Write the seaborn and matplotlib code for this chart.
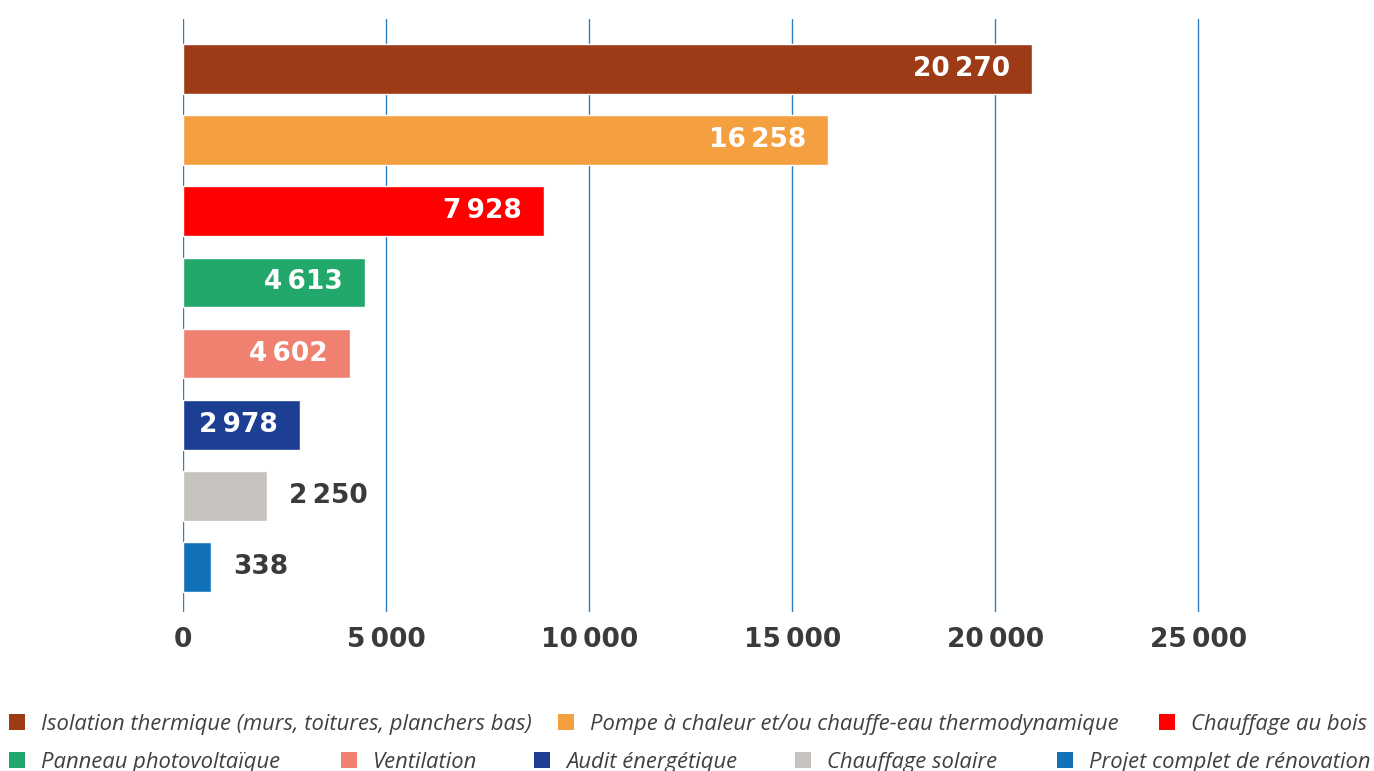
import matplotlib
matplotlib.use("Agg")
import matplotlib.pyplot as plt
from matplotlib.patches import Rectangle
import seaborn as sns
import pandas as pd

categories = [
    "Isolation thermique (murs, toitures, planchers bas)",
    "Pompe à chaleur et/ou chauffe-eau thermodynamique",
    "Chauffage au bois",
    "Panneau photovoltaïque",
    "Ventilation",
    "Audit énergétique",
    "Chauffage solaire",
    "Projet complet de rénovation",
]
# bar lengths as drawn in the reference
bar_values = [20900, 15880, 8884, 4475, 4106, 2874, 2062, 682]
# value labels as printed in the reference
value_labels = ["20\u2009270", "16\u2009258", "7\u2009928", "4\u2009613",
                "4\u2009602", "2\u2009978", "2\u2009250", "338"]
colors = ["#9E3B17", "#F5A040", "#FF0000", "#22A86B",
          "#F08070", "#1C3F94", "#C6C3BE", "#1172BA"]
tick_values = [0, 5000, 10000, 15000, 20000, 25000]
tick_labels = ["0", "5\u2009000", "10\u2009000", "15\u2009000", "20\u2009000", "25\u2009000"]

sns.set_theme(style="white")
plt.rcParams["font.family"] = ["Open Sans", "DejaVu Sans"]

W, H = 1374, 771
fig = plt.figure(figsize=(W / 100, H / 100), dpi=100)
left, right, top, bottom = 183.3, 1299.8, 19, 612
ax = fig.add_axes([left / W, 1 - bottom / H, (right - left) / W, (bottom - top) / H])

df = pd.DataFrame({"cat": categories, "val": bar_values})
sns.barplot(data=df, y="cat", x="val", hue="cat", palette=colors, orient="h",
            width=0.70, legend=False, ax=ax, saturation=1)

num_font = dict(family=["DejaVu Sans"], fontsize=19, fontweight="bold")

ax.set_xlim(0, 27500)
ax.set_ylim(7.633, -0.703)
ax.set_xticks(tick_values)
ax.set_xticklabels(tick_labels, color="#3a3a3a", **num_font)
ax.tick_params(axis="x", length=0, pad=11)
ax.set_yticks([])
ax.set_xlabel("")
ax.set_ylabel("")
for s in ax.spines.values():
    s.set_visible(False)
ax.grid(axis="x", color="#2F7EC0", linewidth=1.0)
ax.set_axisbelow(True)

pad_pt = 22 * 72 / 100
for i, p in enumerate(ax.patches[:len(categories)]):
    xend = p.get_x() + p.get_width()
    yc = p.get_y() + p.get_height() / 2
    if i < 6:
        ax.annotate(value_labels[i], (xend, yc), xytext=(-pad_pt, 0),
                    textcoords="offset points", ha="right", va="center",
                    color="white", **num_font)
    else:
        ax.annotate(value_labels[i], (xend, yc), xytext=(pad_pt, 0),
                    textcoords="offset points", ha="left", va="center",
                    color="#3a3a3a", **num_font)

# legend: flowing layout (marker left edge x, row centre y in pixels)
legend_pos = [(9, 722), (558, 722), (1159, 722),
              (9, 760), (341, 760), (534, 760), (795, 760), (1057, 760)]
fs = 15.8
fs_px = fs * 100 / 72
sq = 16
for (xp, yp), c, lab in zip(legend_pos, colors, categories):
    fig.patches.append(Rectangle((xp / W, 1 - (yp + sq / 2) / H), sq / W, sq / H,
                                 transform=fig.transFigure, facecolor=c,
                                 edgecolor="none"))
    fig.text((xp + sq + 16) / W, 1 - (yp + 0.36 * fs_px) / H, lab,
             ha="left", va="baseline", fontsize=fs, style="italic",
             color="#404040", family=["Open Sans", "DejaVu Sans"])

fig.savefig("out.png", dpi=100, facecolor="white")
